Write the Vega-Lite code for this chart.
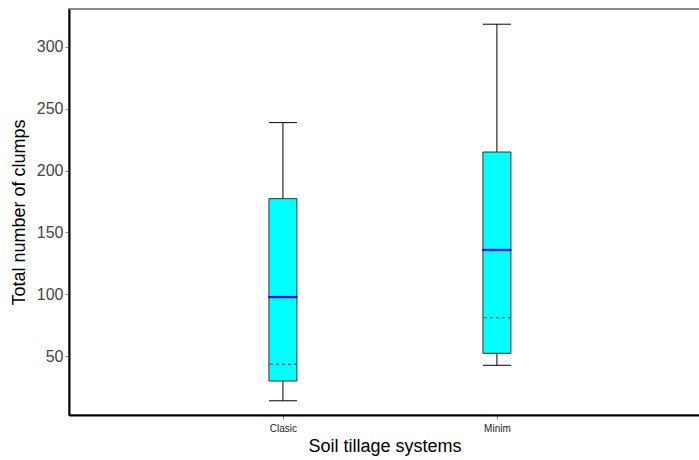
{
  "$schema": "https://vega.github.io/schema/vega-lite/v6.json",
  "width": 631,
  "height": 406,
  "autosize": {"type": "none"},
  "padding": {"left": 69, "top": 9, "right": 0, "bottom": 45},
  "background": "white",
  "config": {
    "view": {"stroke": "#666666", "strokeWidth": 1.5},
    "font": "Liberation Sans"
  },
  "data": {
    "values": [
      {"system": "Clasic", "min": 13.8, "q1": 29.8, "median": 97.7, "mean": 43.3, "q3": 177.3, "max": 238.8},
      {"system": "Minim", "min": 42.5, "q1": 52.2, "median": 135.8, "mean": 81, "q3": 215, "max": 318.4}
    ]
  },
  "encoding": {
    "x": {
      "field": "system",
      "type": "nominal",
      "scale": {"type": "point", "padding": 0.9745, "align": 0.513},
      "axis": {
        "title": "Soil tillage systems",
        "titleFontSize": 18,
        "titleFontWeight": "normal",
        "titleColor": "#000000",
        "titlePadding": 4,
        "labelAngle": 0,
        "labelFontSize": 10,
        "labelColor": "#222222",
        "labelPadding": 4,
        "domainColor": "#000000",
        "domainWidth": 2,
        "tickColor": "#888888",
        "tickSize": 4,
        "grid": false
      }
    }
  },
  "layer": [
    {
      "mark": {"type": "rule", "color": "#000000", "strokeWidth": 1},
      "encoding": {
        "y": {
          "field": "min",
          "type": "quantitative",
          "scale": {"domain": [2.3, 330.7], "nice": false, "zero": false},
          "axis": {
            "title": "Total number of clumps",
            "titleFontSize": 18,
            "titleFontWeight": "normal",
            "titleColor": "#000000",
            "titlePadding": 8,
            "values": [50, 100, 150, 200, 250, 300],
            "labelFontSize": 16,
            "labelColor": "#444444",
            "labelPadding": 2,
            "domainColor": "#000000",
            "domainWidth": 2,
            "tickColor": "#888888",
            "tickSize": 4,
            "grid": false
          }
        },
        "y2": {"field": "max"}
      }
    },
    {
      "mark": {"type": "bar", "size": 28, "fill": "#00FFFF", "stroke": "#333333", "strokeWidth": 1},
      "encoding": {
        "y": {"field": "q1", "type": "quantitative"},
        "y2": {"field": "q3"}
      }
    },
    {
      "mark": {"type": "tick", "size": 28, "thickness": 1, "color": "#000000", "opacity": 1},
      "encoding": {"y": {"field": "min", "type": "quantitative"}}
    },
    {
      "mark": {"type": "tick", "size": 28, "thickness": 1, "color": "#000000", "opacity": 1},
      "encoding": {"y": {"field": "max", "type": "quantitative"}}
    },
    {
      "mark": {"type": "rule", "color": "#222222", "strokeWidth": 1, "strokeDash": [3, 3], "xOffset": -13, "x2Offset": 13},
      "encoding": {
        "x2": {"field": "system"},
        "y": {"field": "mean", "type": "quantitative"}
      }
    },
    {
      "mark": {"type": "tick", "size": 29, "thickness": 2.2, "color": "#0000FF", "opacity": 1},
      "encoding": {"y": {"field": "median", "type": "quantitative"}}
    }
  ]
}
